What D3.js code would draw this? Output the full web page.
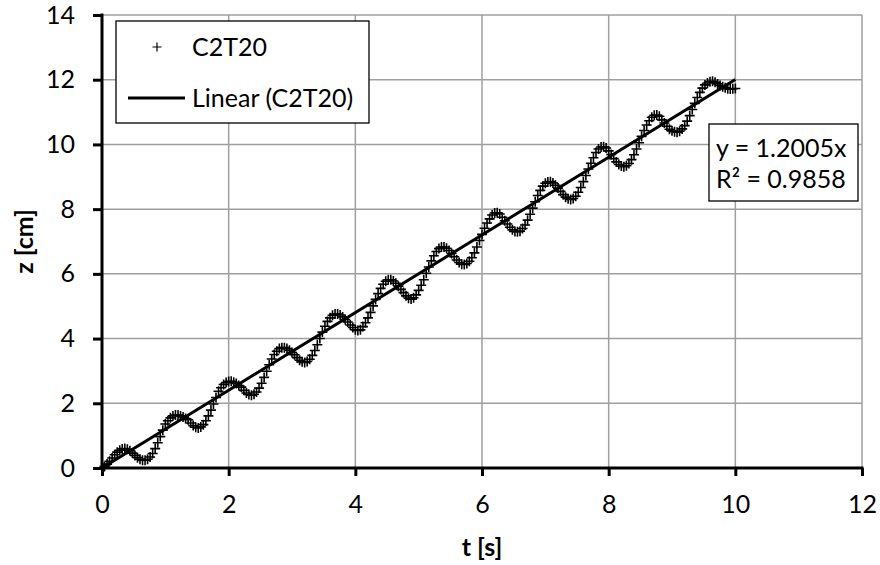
<!DOCTYPE html>
<html>
<head>
<meta charset="utf-8">
<script src="https://cdn.jsdelivr.net/npm/d3@7"></script>
<style>
  html, body { margin: 0; padding: 0; background: #fff; }
  svg { display: block; font-family: Lato, "Open Sans", sans-serif; }
</style>
</head>
<body>
<svg id="chart" width="880" height="565"></svg>
<script>
// Series label, trend line and its fit statistics
const seriesName = "C2T20";
const trendName = "Linear (C2T20)";
const trendSlope = 1.2005;
const trendR2 = 0.9858;

// Axis ticks
const xTicks = [0, 2, 4, 6, 8, 10, 12];
const yTicks = [0, 2, 4, 6, 8, 10, 12, 14];

// Measured samples: time [s]
const timeS = [
  0,0.04,0.08,0.12,0.16,0.2,0.24,0.28,0.32,0.36,0.4,0.44,0.48,0.52,0.56,0.6,0.64,0.68,0.72,0.76,0.8,
  0.84,0.88,0.92,0.96,1,1.04,1.08,1.12,1.16,1.2,1.24,1.28,1.32,1.36,1.4,1.44,1.48,1.52,1.56,1.6,1.64,
  1.68,1.72,1.76,1.8,1.84,1.88,1.92,1.96,2,2.04,2.08,2.12,2.16,2.2,2.24,2.28,2.32,2.36,2.4,2.44,2.48,
  2.52,2.56,2.6,2.64,2.68,2.72,2.76,2.8,2.84,2.88,2.92,2.96,3,3.04,3.08,3.12,3.16,3.2,3.24,3.28,3.32,
  3.36,3.4,3.44,3.48,3.52,3.56,3.6,3.64,3.68,3.72,3.76,3.8,3.84,3.88,3.92,3.96,4,4.04,4.08,4.12,4.16,
  4.2,4.24,4.28,4.32,4.36,4.4,4.44,4.48,4.52,4.56,4.6,4.64,4.68,4.72,4.76,4.8,4.84,4.88,4.92,4.96,5,
  5.04,5.08,5.12,5.16,5.2,5.24,5.28,5.32,5.36,5.4,5.44,5.48,5.52,5.56,5.6,5.64,5.68,5.72,5.76,5.8,5.84,
  5.88,5.92,5.96,6,6.04,6.08,6.12,6.16,6.2,6.24,6.28,6.32,6.36,6.4,6.44,6.48,6.52,6.56,6.6,6.64,6.68,
  6.72,6.76,6.8,6.84,6.88,6.92,6.96,7,7.04,7.08,7.12,7.16,7.2,7.24,7.28,7.32,7.36,7.4,7.44,7.48,7.52,
  7.56,7.6,7.64,7.68,7.72,7.76,7.8,7.84,7.88,7.92,7.96,8,8.04,8.08,8.12,8.16,8.2,8.24,8.28,8.32,8.36,
  8.4,8.44,8.48,8.52,8.56,8.6,8.64,8.68,8.72,8.76,8.8,8.84,8.88,8.92,8.96,9,9.04,9.08,9.12,9.16,9.2,
  9.24,9.28,9.32,9.36,9.4,9.44,9.48,9.52,9.56,9.6,9.64,9.68,9.72,9.76,9.8,9.84,9.88,9.92,9.96,10
];

// Measured samples: height z [cm]
const heightCm = [
  0,0.05,0.12,0.21,0.31,0.41,0.49,0.55,0.59,0.6,0.58,0.53,0.46,0.39,0.32,0.27,0.24,0.24,0.27,0.34,0.45,
  0.6,0.78,0.97,1.17,1.36,1.46,1.55,1.61,1.64,1.64,1.61,1.58,1.53,1.49,1.39,1.31,1.26,1.24,1.27,1.34,1.46,
  1.61,1.79,1.98,2.18,2.37,2.48,2.58,2.64,2.67,2.68,2.65,2.61,2.55,2.5,2.4,2.32,2.27,2.25,2.28,2.35,2.47,
  2.62,2.8,2.99,3.19,3.37,3.51,3.61,3.69,3.72,3.72,3.69,3.64,3.57,3.5,3.41,3.33,3.28,3.26,3.29,3.36,3.48,
  3.63,3.81,4,4.2,4.38,4.53,4.64,4.72,4.76,4.76,4.73,4.67,4.59,4.51,4.42,4.34,4.27,4.25,4.27,4.37,4.49,
  4.64,4.81,5.01,5.21,5.39,5.55,5.68,5.77,5.82,5.82,5.78,5.71,5.62,5.52,5.42,5.32,5.25,5.22,5.26,5.35,5.49,
  5.65,5.82,6.02,6.21,6.4,6.56,6.69,6.78,6.83,6.83,6.79,6.72,6.63,6.53,6.43,6.35,6.3,6.29,6.32,6.39,6.5,
  6.65,6.83,7.03,7.22,7.41,7.57,7.7,7.82,7.88,7.89,7.85,7.75,7.64,7.54,7.44,7.36,7.31,7.3,7.32,7.4,7.51,
  7.66,7.84,8.03,8.23,8.42,8.58,8.71,8.8,8.84,8.85,8.81,8.74,8.65,8.55,8.45,8.37,8.32,8.3,8.33,8.4,8.52,
  8.67,8.85,9.04,9.24,9.42,9.59,9.75,9.86,9.92,9.93,9.89,9.8,9.69,9.56,9.46,9.38,9.33,9.31,9.34,9.41,9.53,
  9.68,9.86,10.05,10.25,10.43,10.6,10.73,10.84,10.9,10.91,10.87,10.76,10.66,10.56,10.47,10.42,10.39,10.38,10.41,10.48,10.58,
  10.72,10.89,11.08,11.27,11.45,11.61,11.74,11.84,11.9,11.94,11.95,11.92,11.87,11.82,11.78,11.75,11.72,11.71,11.72,11.73
];

const points = timeS.map((t, i) => ({ t, z: heightCm[i] }));

const svg = d3.select("#chart");
const margin = { left: 102, top: 15, right: 18, bottom: 97 };
const W = 880, H = 565;

const x = d3.scaleLinear().domain([0, 12]).range([margin.left, W - margin.right]);
const y = d3.scaleLinear().domain([0, 14]).range([H - margin.bottom, margin.top]);

const FONT = 25;
const gridColor = "#9f9f9f";

// Gridlines
const grid = svg.append("g");
grid.selectAll("line.h").data(yTicks.filter(v => v > 0)).join("line")
  .attr("x1", x(0)).attr("x2", x(12))
  .attr("y1", d => y(d)).attr("y2", d => y(d))
  .attr("stroke", gridColor).attr("stroke-width", 1.5);
grid.selectAll("line.v").data(xTicks.filter(v => v > 0)).join("line")
  .attr("y1", y(0)).attr("y2", y(14))
  .attr("x1", d => x(d)).attr("x2", d => x(d))
  .attr("stroke", gridColor).attr("stroke-width", 1.5);

// Data markers (plus signs)
const plotPlus = "M-5,0H5M0,-5V5";
const legendPlus = "M-4.5,0H4.5M0,-4.5V4.5";
svg.append("g").selectAll("path").data(points).join("path")
  .attr("d", plotPlus)
  .attr("transform", d => `translate(${x(d.t)},${y(d.z)})`)
  .attr("fill", "none").attr("stroke", "#000").attr("stroke-width", 1.6);

// Linear trend through the origin
const tMax = d3.max(timeS);
svg.append("line")
  .attr("x1", x(0)).attr("y1", y(0))
  .attr("x2", x(tMax)).attr("y2", y(trendSlope * tMax))
  .attr("stroke", "#000").attr("stroke-width", 3);

// Axes
const xAxis = d3.axisBottom(x).tickValues(xTicks).tickFormat(d3.format("d"))
  .tickSize(8).tickSizeOuter(0).tickPadding(19);
const yAxis = d3.axisLeft(y).tickValues(yTicks).tickFormat(d3.format("d"))
  .tickSize(9).tickSizeOuter(0).tickPadding(18);

const gx = svg.append("g").attr("transform", `translate(0,${y(0)})`).call(xAxis);
const gy = svg.append("g").attr("transform", `translate(${x(0)},0)`).call(yAxis);
[gx, gy].forEach(g => {
  g.select(".domain").attr("stroke", "#000").attr("stroke-width", 3);
  g.selectAll(".tick line").attr("stroke", "#000").attr("stroke-width", 3);
  g.selectAll(".tick text").attr("fill", "#000")
    .style("font-family", "Lato, 'Open Sans', sans-serif").style("font-size", FONT + "px");
});
gx.select(".domain").attr("d", `M${x(0) - 1.5},0H${x(12) + 1.5}`);
gy.select(".domain").attr("d", `M0,${y(0) + 1.5}V${y(14) - 1.5}`);

// Axis titles
svg.append("text")
  .attr("x", (x(0) + x(12)) / 2).attr("y", 556)
  .attr("text-anchor", "middle")
  .attr("font-size", FONT).attr("font-weight", "bold")
  .text("t [s]");
svg.append("text")
  .attr("transform", `translate(33,${(y(0) + y(14)) / 2}) rotate(-90)`)
  .attr("text-anchor", "middle")
  .attr("font-size", FONT).attr("font-weight", "bold")
  .text("z [cm]");

// Legend
const lg = svg.append("g");
lg.append("rect").attr("x", 116).attr("y", 21).attr("width", 253).attr("height", 102)
  .attr("fill", "#fff").attr("stroke", "#000").attr("stroke-width", 1.3);
lg.append("path").attr("d", legendPlus).attr("transform", "translate(157,47)")
  .attr("fill", "none").attr("stroke", "#000").attr("stroke-width", 1.2);
lg.append("text").attr("x", 192).attr("y", 56).attr("font-size", FONT).text(seriesName);
lg.append("line").attr("x1", 128).attr("x2", 185).attr("y1", 98).attr("y2", 98)
  .attr("stroke", "#000").attr("stroke-width", 3);
lg.append("text").attr("x", 192).attr("y", 107).attr("font-size", FONT).text(trendName);

// Trend equation box
const eq = svg.append("g");
eq.append("rect").attr("x", 709).attr("y", 124).attr("width", 149).attr("height", 77)
  .attr("fill", "#fff").attr("stroke", "#000").attr("stroke-width", 1.3);
eq.append("text").attr("x", 716).attr("y", 157).attr("font-size", FONT)
  .text(`y = ${trendSlope.toFixed(4)}x`);
eq.append("text").attr("x", 716).attr("y", 188).attr("font-size", FONT)
  .text(`R² = ${trendR2.toFixed(4)}`);
</script>
</body>
</html>
